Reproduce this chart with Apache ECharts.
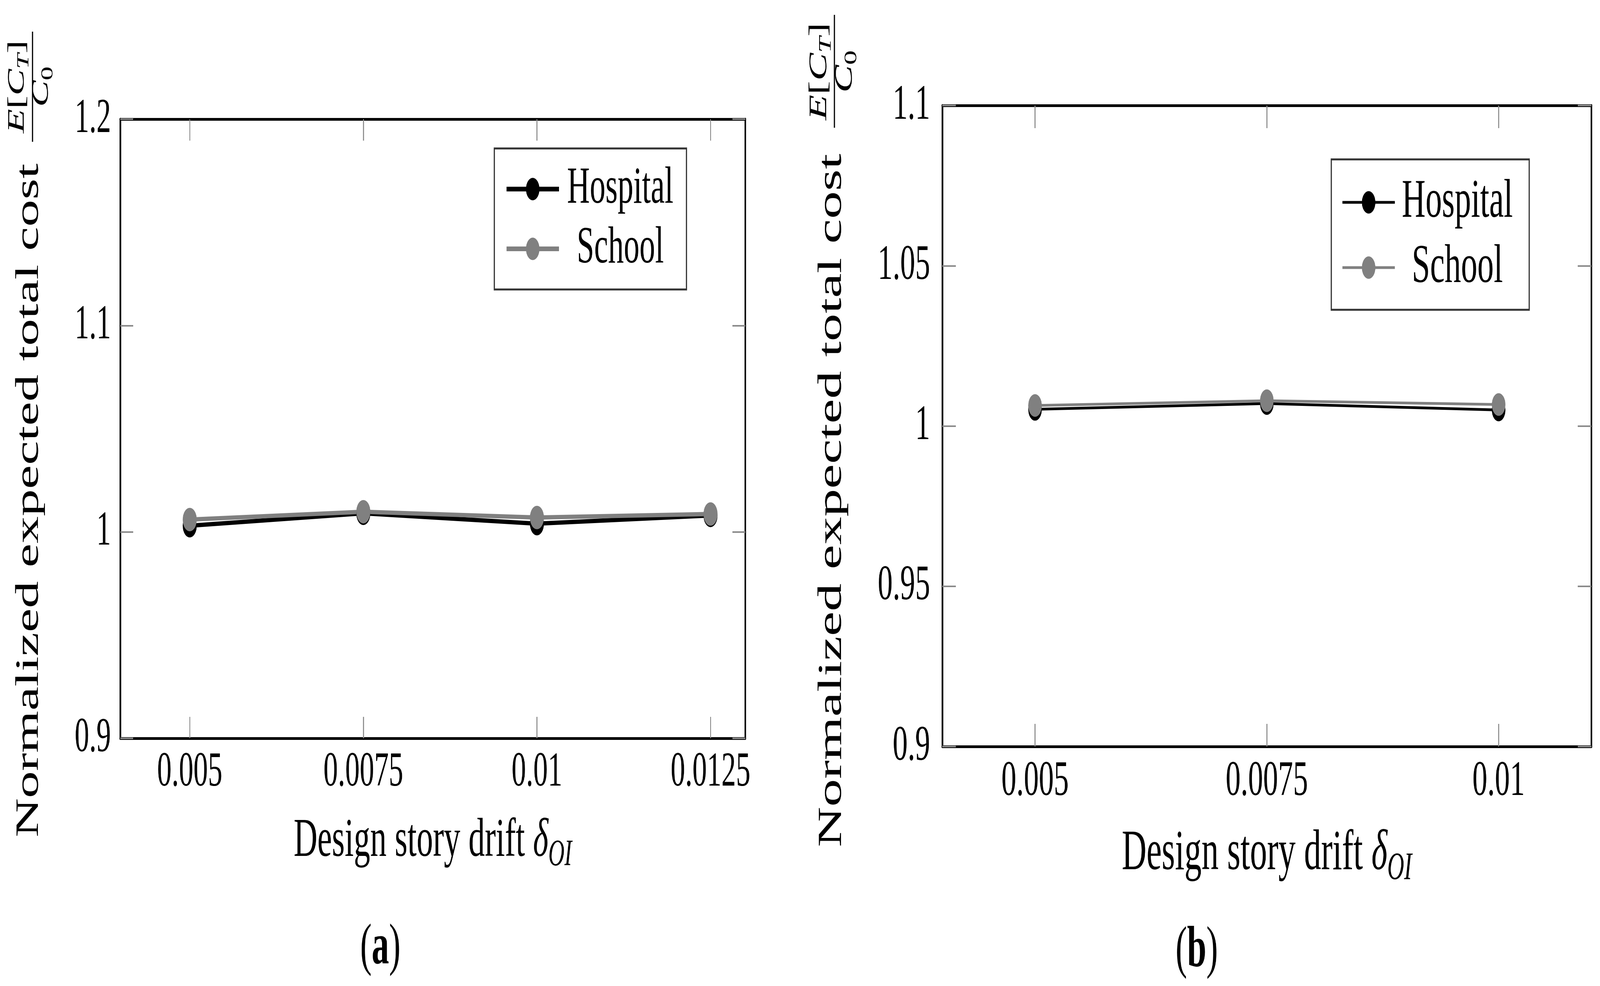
<!DOCTYPE html>
<html>
<head>
<meta charset="utf-8">
<script src="https://cdn.jsdelivr.net/npm/echarts@6/dist/echarts.min.js"></script>
<style>
  html, body { margin: 0; padding: 0; background: #fff; overflow: hidden; }
  #chart { width: 6836px; height: 2524px; transform-origin: 0 0; }
</style>
</head>
<body>
<div id="chart"></div>
<script>
// panel (a)
var driftA = [0.005, 0.0075, 0.01, 0.0125];
var hospitalA = [1.003, 1.009, 1.004, 1.008];
var schoolA = [1.006, 1.0098, 1.007, 1.0087];
var xTicksA = [0.005, 0.0075, 0.01, 0.0125];
var yTicksA = [0.9, 1, 1.1, 1.2];

// panel (b)
var driftB = [0.005, 0.0075, 0.01];
var hospitalB = [1.0052, 1.007, 1.005];
var schoolB = [1.0064, 1.0079, 1.0067];
var xTicksB = [0.005, 0.0075, 0.01];
var yTicksB = [0.9, 0.95, 1, 1.05, 1.1];

var FONT = "'Liberation Serif', 'DejaVu Serif', serif";
var TICK_GRAY = '#8a8a8a';

// the window can come out narrower than the page, squeeze the page into it
var box = document.getElementById('chart');
var sx = Math.min(1, window.innerWidth / 6836);
var sy = Math.min(1, window.innerHeight / 2524);
if(sx < 1 || sy < 1){
	box.style.transform = 'scale(' + sx + ',' + sy + ')';
}

var measureCtx = document.createElement('canvas').getContext('2d');
function textW(t, size, italic){
	measureCtx.font = (italic ? 'italic ' : '') + size + 'px ' + FONT;
	return measureCtx.measureText(t).width;
}

function pairs(xs, ys){
	var out = [];
	for(var i=0; i<xs.length; i++){
		out.push([xs[i], ys[i]]);
	}
	return out;
}

function xAxes(grid, min, max, ticks, fontSize, tickLen, nameSize, nameGap){
	var base = {
		type: 'value', gridIndex: grid, min: min, max: max,
		splitLine: {show: false},
		axisLine: {show: true, onZero: false, lineStyle: {color: '#000', width: 7}},
		axisTick: {show: true, inside: true, length: tickLen, customValues: ticks,
			lineStyle: {color: TICK_GRAY, width: 4}}
	};
	var bottom = echarts.util.merge({
		position: 'bottom',
		axisLabel: {show: true, customValues: ticks, margin: 26, color: '#000',
			fontFamily: FONT, fontSize: fontSize,
			formatter: function(v){ return String(v); }},
		name: '{t|Design story drift }{d|δ}{s|OI}',
		nameLocation: 'middle',
		nameGap: nameGap,
		nameTextStyle: {
			rich: {
				t: {fontFamily: FONT, fontSize: nameSize, color: '#000'},
				d: {fontFamily: FONT, fontSize: nameSize, fontStyle: 'italic', color: '#000'},
				s: {fontFamily: FONT, fontSize: nameSize*0.68, fontStyle: 'italic', color: '#000', padding: [nameSize*0.5, 0, 0, 0]}
			}
		}
	}, base, true);
	var top = echarts.util.merge({position: 'top', axisLabel: {show: false}}, base, true);
	return [bottom, top];
}

function yAxes(grid, min, max, ticks, fontSize, tickLen, margin){
	var base = {
		type: 'value', gridIndex: grid, min: min, max: max,
		splitLine: {show: false},
		axisLine: {show: true, onZero: false, lineStyle: {color: '#000', width: 7}},
		axisTick: {show: true, inside: true, length: tickLen, customValues: ticks,
			lineStyle: {color: TICK_GRAY, width: 4}}
	};
	var left = echarts.util.merge({
		position: 'left',
		axisLabel: {show: true, customValues: ticks, margin: margin, color: '#000',
			fontFamily: FONT, fontSize: fontSize,
			formatter: function(v){ return String(v); }}
	}, base, true);
	var right = echarts.util.merge({position: 'right', axisLabel: {show: false}}, base, true);
	return [left, right];
}

function lineSeries(name, color, xIdx, yIdx, data, width, size){
	return {
		name: name, type: 'line',
		xAxisIndex: xIdx, yAxisIndex: yIdx,
		data: data,
		symbol: 'circle', symbolSize: size,
		lineStyle: {color: color, width: width},
		itemStyle: {color: color},
		emphasis: {disabled: true},
		animation: false
	};
}

function legendFor(left, top, pad, gap, textWidth, fontSize, lineW){
	return {
		orient: 'vertical',
		left: left, top: top,
		padding: pad,
		itemGap: gap,
		itemWidth: 224, itemHeight: 72,
		borderColor: '#333', borderWidth: 5,
		backgroundColor: '#fff',
		lineStyle: {width: lineW},
		selectedMode: false,
		data: ['Hospital', 'School'],
		formatter: function(n){ return '{t|' + n + '}'; },
		textStyle: {
			rich: {t: {width: textWidth, align: 'center', fontFamily: FONT, fontSize: fontSize, color: '#000'}}
		}
	};
}

// one rotated run of text pieces, read bottom to top, centred on screen y = cy
// baseX = screen x of the baseline (text top faces left)
function rotatedRun(pieces, cy, baseX, S){
	var K = 0.34, out = [], total = 0, i, p, size;
	for(i=0; i<pieces.length; i++){
		p = pieces[i];
		p.size = p.sub ? S*0.7 : S;
		p.w = textW(p.t, p.size, p.it);
		total += p.w;
	}
	var acc = 0;
	for(i=0; i<pieces.length; i++){
		p = pieces[i];
		out.push({type: 'text', rotation: Math.PI/2,
			x: baseX + (p.sub ? S*0.16 : 0) - K*p.size,
			y: cy + total/2 - acc,
			style: {text: p.t, fontFamily: FONT, fontSize: p.size,
				fontStyle: p.it ? 'italic' : 'normal', fill: '#000',
				textAlign: 'left', textVerticalAlign: 'middle'}});
		acc += p.w;
	}
	return out;
}

// y-axis title with the E[C_T]/C_0 fraction
function yTitle(cx, cy, size, fr){
	var els = [
		{type: 'text', x: cx, y: cy, rotation: Math.PI/2,
			style: {text: 'Normalized expected total cost', fontFamily: FONT, fontSize: size,
				fill: '#000', textAlign: 'center', textVerticalAlign: 'middle'}},
		{type: 'line', shape: {x1: fr.barX, y1: fr.y1, x2: fr.barX, y2: fr.y2},
			style: {stroke: '#000', lineWidth: 5}}
	];
	var num = [{t: 'E', it: true}, {t: '[', it: false}, {t: 'C', it: true},
		{t: 'T', it: true, sub: true}, {t: ']', it: false}];
	var den = [{t: 'C', it: true}, {t: '0', it: false, sub: true}];
	return els.concat(rotatedRun(num, fr.cy, fr.numBase, fr.S), rotatedRun(den, fr.cy, fr.denBase, fr.S));
}

function panelTag(x, y, letter){
	return {type: 'text', x: x, y: y,
		style: {text: '{p|(}{b|' + letter + '}{p|)}',
			rich: {
				p: {fontFamily: FONT, fontSize: 148, fill: '#000'},
				b: {fontFamily: FONT, fontSize: 148, fontWeight: 'bold', fill: '#000'}
			},
			textAlign: 'center', textVerticalAlign: 'middle'}};
}

var myChart = echarts.init(box, null, {renderer: 'canvas', width: 6836, height: 2524});

var xa = xAxes(0, 0.004, 0.013, xTicksA, 124, 55, 140, 182);
var xb = xAxes(1, 0.004, 0.011, xTicksB, 128, 58, 146, 190);
var ya = yAxes(0, 0.9, 1.2, yTicksA, 124, 55, 40);
var yb = yAxes(1, 0.9, 1.1, yTicksB, 128, 58, 52);

var option = {
	backgroundColor: '#fff',
	animation: false,
	grid: [
		{left: 514, top: 305, width: 2670, height: 1585},
		{left: 4026, top: 270, width: 2773, height: 1641}
	],
	xAxis: [xa[0], xa[1], xb[0], xb[1]],
	yAxis: [ya[0], ya[1], yb[0], yb[1]],
	legend: [
		legendFor(2112, 380, [37, 56, 37, 46], 19, 514, 134, 12),
		legendFor(5688, 408, [40, 70, 38, 44], 27, 524, 140, 7)
	],
	series: [
		lineSeries('Hospital', '#000000', 0, 0, pairs(driftA, hospitalA), 11, 60),
		lineSeries('School', '#808080', 0, 0, pairs(driftA, schoolA), 11, 60),
		lineSeries('Hospital', '#000000', 2, 2, pairs(driftB, hospitalB), 7, 58),
		lineSeries('School', '#808080', 2, 2, pairs(driftB, schoolB), 7, 58)
	],
	graphic: [].concat(
		yTitle(125, 1281, 139, {cy: 222, numBase: 110, denBase: 213, S: 102, barX: 139, y1: 81, y2: 363}),
		yTitle(3555, 1281, 143, {cy: 183, numBase: 3538, denBase: 3647, S: 107, barX: 3565, y1: 38, y2: 327}),
		[panelTag(1625, 2428, 'a'), panelTag(5113, 2435, 'b')]
	)
};
myChart.setOption(option);
</script>
</body>
</html>
